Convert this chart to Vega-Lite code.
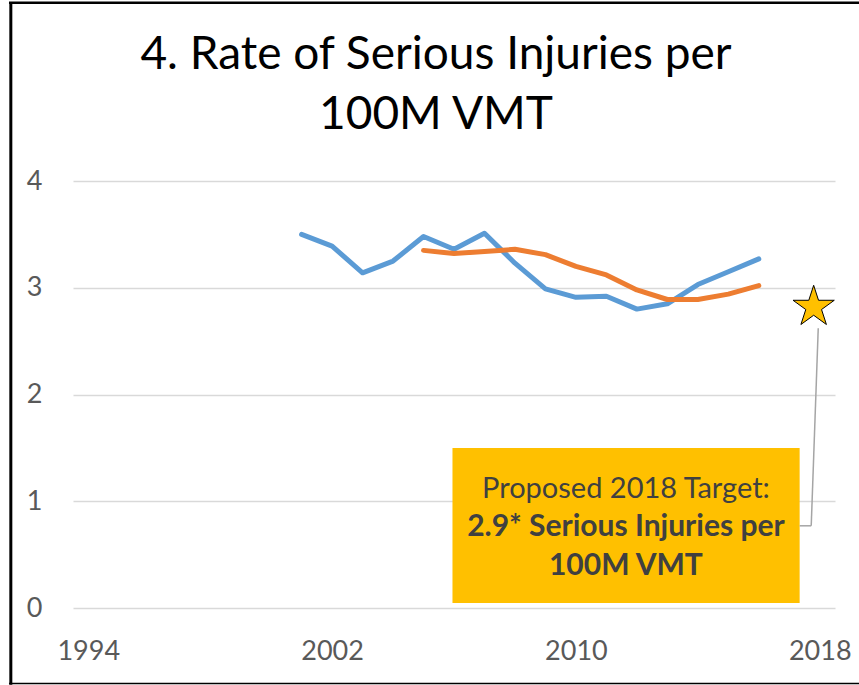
{
  "$schema": "https://vega.github.io/schema/vega-lite/v6.json",
  "width": 762,
  "height": 427,
  "autosize": "none",
  "padding": {"left": 73, "top": 181, "right": 24, "bottom": 77},
  "background": "white",
  "title": {
    "text": ["4. Rate of Serious Injuries per", "100M VMT"],
    "font": "Lato",
    "fontSize": 46,
    "fontWeight": "normal",
    "color": "#000000",
    "lineHeight": 60,
    "anchor": "middle",
    "dx": -18,
    "offset": -138
  },
  "config": {
    "view": {"stroke": null},
    "axis": {
      "labelFont": "Lato",
      "labelFontSize": 27,
      "labelColor": "#595959",
      "domain": false,
      "ticks": false,
      "title": null
    }
  },
  "data": {"values": [{}]},
  "datasets": {
    "series": [
      {"year": 2001, "rate": 3.50, "series": "Annual"},
      {"year": 2002, "rate": 3.39, "series": "Annual"},
      {"year": 2003, "rate": 3.14, "series": "Annual"},
      {"year": 2004, "rate": 3.25, "series": "Annual"},
      {"year": 2005, "rate": 3.48, "series": "Annual"},
      {"year": 2006, "rate": 3.36, "series": "Annual"},
      {"year": 2007, "rate": 3.51, "series": "Annual"},
      {"year": 2008, "rate": 3.23, "series": "Annual"},
      {"year": 2009, "rate": 2.99, "series": "Annual"},
      {"year": 2010, "rate": 2.91, "series": "Annual"},
      {"year": 2011, "rate": 2.92, "series": "Annual"},
      {"year": 2012, "rate": 2.80, "series": "Annual"},
      {"year": 2013, "rate": 2.85, "series": "Annual"},
      {"year": 2014, "rate": 3.03, "series": "Annual"},
      {"year": 2015, "rate": 3.15, "series": "Annual"},
      {"year": 2016, "rate": 3.27, "series": "Annual"},
      {"year": 2005, "rate": 3.35, "series": "5-Year Average"},
      {"year": 2006, "rate": 3.32, "series": "5-Year Average"},
      {"year": 2007, "rate": 3.34, "series": "5-Year Average"},
      {"year": 2008, "rate": 3.36, "series": "5-Year Average"},
      {"year": 2009, "rate": 3.31, "series": "5-Year Average"},
      {"year": 2010, "rate": 3.20, "series": "5-Year Average"},
      {"year": 2011, "rate": 3.12, "series": "5-Year Average"},
      {"year": 2012, "rate": 2.98, "series": "5-Year Average"},
      {"year": 2013, "rate": 2.89, "series": "5-Year Average"},
      {"year": 2014, "rate": 2.89, "series": "5-Year Average"},
      {"year": 2015, "rate": 2.94, "series": "5-Year Average"},
      {"year": 2016, "rate": 3.02, "series": "5-Year Average"}
    ],
    "target": [
      {"year": 2017.8, "rate": 2.82, "series": "Target"}
    ]
  },
  "layer": [
    {
      "data": {"name": "series"},
      "mark": {"type": "line", "strokeWidth": 5, "strokeCap": "round", "strokeJoin": "round"},
      "encoding": {
        "x": {"field": "year", "type": "quantitative", "scale": {"domain": [1993.5, 2018.5], "nice": false, "zero": false}, "axis": {"values": [1994, 2002, 2010, 2018], "format": "d", "grid": false, "labelPadding": 30}},
        "y": {"field": "rate", "type": "quantitative", "scale": {"domain": [0, 4], "nice": false}, "axis": {"values": [0, 1, 2, 3, 4], "format": "d", "grid": true, "gridColor": "#D9D9D9", "gridWidth": 1.5, "labelPadding": 31}},
        "color": {"field": "series", "type": "nominal", "scale": {"domain": ["Annual", "5-Year Average"], "range": ["#5B9BD5", "#ED7D31"]}, "legend": null},
        "order": {"field": "year"}
      }
    },
    {
      "mark": {"type": "rule", "color": "#000000", "strokeWidth": 3},
      "encoding": {
        "x": {"datum": 1991.46, "type": "quantitative"},
        "y": {"datum": 5.67, "type": "quantitative"},
        "y2": {"datum": -0.72}
      }
    },
    {
      "mark": {"type": "rule", "color": "#000000", "strokeWidth": 2.5},
      "encoding": {
        "x": {"datum": 1991.4, "type": "quantitative"},
        "x2": {"datum": 2019.4},
        "y": {"datum": 5.67, "type": "quantitative"}
      }
    },
    {
      "mark": {"type": "rule", "color": "#000000", "strokeWidth": 1.5},
      "encoding": {
        "x": {"datum": 1991.4, "type": "quantitative"},
        "x2": {"datum": 2019.4},
        "y": {"datum": -0.707, "type": "quantitative"}
      }
    },
    {
      "mark": {"type": "rect", "color": "#FFC000"},
      "encoding": {
        "x": {"datum": 2005.95, "type": "quantitative"},
        "x2": {"datum": 2017.34},
        "y": {"datum": 1.499, "type": "quantitative"},
        "y2": {"datum": 0.047}
      }
    },
    {
      "mark": {"type": "rule", "color": "#A5A5A5", "strokeWidth": 1.5},
      "encoding": {
        "x": {"datum": 2017.34, "type": "quantitative"},
        "x2": {"datum": 2017.72},
        "y": {"datum": 0.77, "type": "quantitative"}
      }
    },
    {
      "mark": {"type": "rule", "color": "#A5A5A5", "strokeWidth": 1.5},
      "encoding": {
        "x": {"datum": 2017.72, "type": "quantitative"},
        "x2": {"datum": 2017.95},
        "y": {"datum": 0.77, "type": "quantitative"},
        "y2": {"datum": 2.62}
      }
    },
    {
      "data": {"name": "target"},
      "mark": {
        "type": "point",
        "shape": "M0,-1L0.2245,-0.309L0.9511,-0.309L0.3633,0.118L0.5878,0.809L0,0.382L-0.5878,0.809L-0.3633,0.118L-0.9511,-0.309L-0.2245,-0.309Z",
        "filled": true,
        "fill": "#FFC000",
        "stroke": "#000000",
        "strokeWidth": 1,
        "opacity": 1,
        "size": 1880
      },
      "encoding": {
        "x": {"field": "year", "type": "quantitative"},
        "y": {"field": "rate", "type": "quantitative"}
      }
    },
    {
      "mark": {"type": "text", "font": "Lato", "fontSize": 29, "color": "#404040", "align": "center", "baseline": "alphabetic", "text": "Proposed 2018 Target:"},
      "encoding": {
        "x": {"datum": 2011.64, "type": "quantitative"},
        "y": {"datum": 1.03, "type": "quantitative"}
      }
    },
    {
      "mark": {"type": "text", "font": "Lato", "fontSize": 30, "fontWeight": "bold", "color": "#404040", "align": "center", "baseline": "alphabetic", "lineHeight": 39, "text": ["2.9* Serious Injuries per", "100M VMT"]},
      "encoding": {
        "x": {"datum": 2011.64, "type": "quantitative"},
        "y": {"datum": 0.674, "type": "quantitative"}
      }
    }
  ]
}
